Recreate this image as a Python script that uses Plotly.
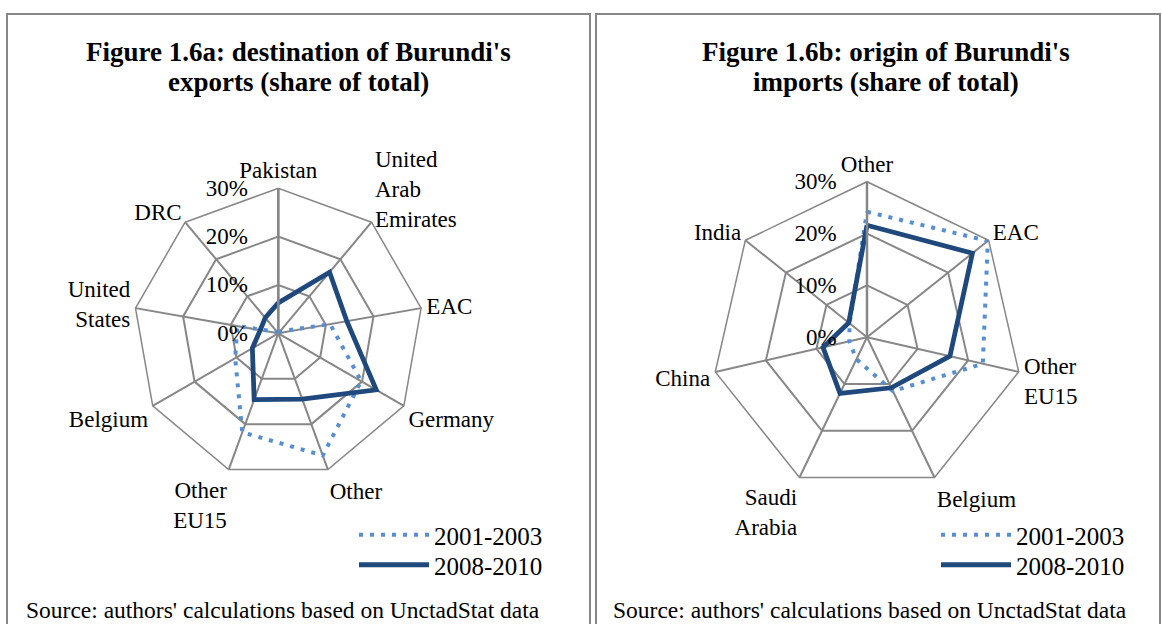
import plotly.graph_objects as go

# ---------------- data ----------------
exp_categories = ["Pakistan", "United<br>Arab<br>Emirates", "EAC", "Germany", "Other",
                  "Other<br>EU15", "Belgium", "United<br>States", "DRC"]
exp_2001_2003 = [0.3, 0.5, 10.9, 19.8, 26.9, 21.8, 10.3, 8.6, 0.4]
exp_2008_2010 = [6.3, 16.5, 14.4, 23.4, 14.5, 14.6, 6.2, 3.8, 4.2]

imp_categories = ["Other", "EAC", "Other<br>EU15", "Belgium", "Saudi<br>Arabia", "China", "India"]
imp_2001_2003 = [24.2, 29.8, 22.9, 11.5, 4.7, 3.5, 4.3]
imp_2008_2010 = [21.6, 26.0, 16.4, 10.8, 12.0, 8.7, 4.5]

series_names = ["2001-2003", "2008-2010"]
radial_tickvals = [0, 10, 20, 30]
radial_ticktext = ["0%", "10%", "20%", "30%"]

titles_a = ["Figure 1.6a: destination of Burundi's", "exports (share of total)"]
titles_b = ["Figure 1.6b: origin of Burundi's", "imports (share of total)"]
source_text = "Source: authors' calculations based on UnctadStat data"

# ---------------- style ----------------
W, H = 1162, 624
FONT = "Times New Roman, Liberation Serif, serif"
GRID = "#878787"
DOT_COLOR = "#558ED5"
SOLID_COLOR = "#1F497D"


def px(x):
    return x / W


def py(y):
    return 1 - y / H


def closed(vals):
    return list(vals) + [vals[0]]


fig = go.Figure()

panels = [
    (exp_categories, exp_2001_2003, exp_2008_2010, "polar", ["legend", "legend2"]),
    (imp_categories, imp_2001_2003, imp_2008_2010, "polar2", ["legend3", "legend4"]),
]
for cats, s1, s2, pol, legs in panels:
    fig.add_trace(go.Scatterpolar(
        r=closed(s1), theta=closed(cats), mode="lines", name=series_names[0],
        line=dict(color=DOT_COLOR, width=4, dash="4px,7px"),
        subplot=pol, legend=legs[0], hoverinfo="skip"))
    fig.add_trace(go.Scatterpolar(
        r=closed(s2), theta=closed(cats), mode="lines", name=series_names[1],
        line=dict(color=SOLID_COLOR, width=4.8),
        subplot=pol, legend=legs[1], hoverinfo="skip"))


def polar_cfg(cx, cy, rad, cats):
    return dict(
        domain=dict(x=[px(cx - rad), px(cx + rad)], y=[py(cy + rad), py(cy - rad)]),
        bgcolor="white",
        gridshape="linear",
        radialaxis=dict(
            range=[0, 30], tickvals=radial_tickvals, ticktext=radial_ticktext,
            angle=90, tickangle=90, side="counterclockwise",
            showline=True, linecolor=GRID, linewidth=2.5,
            gridcolor=GRID, gridwidth=1.5,
            ticks="outside", ticklen=21, tickcolor="rgba(0,0,0,0)",
            tickfont=dict(family=FONT, size=23, color="black"),
        ),
        angularaxis=dict(
            type="category", categoryarray=cats, rotation=90, direction="clockwise",
            showline=True, linecolor=GRID, linewidth=1.5,
            gridcolor=GRID, gridwidth=1.5, ticks="",
            tickfont=dict(family=FONT, size=23, color="black"),
        ),
    )


def legend_cfg(x, y):
    return dict(x=px(x), y=py(y), xanchor="left", yanchor="middle",
                font=dict(family=FONT, size=25, color="black"),
                bgcolor="rgba(0,0,0,0)", itemwidth=70, borderwidth=0)


fig.update_layout(
    width=W, height=H,
    margin=dict(l=0, r=0, t=0, b=0),
    paper_bgcolor="white", plot_bgcolor="white",
    font=dict(family=FONT, color="black"),
    polar=polar_cfg(278.3, 333.3, 145, exp_categories),
    polar2=polar_cfg(867, 337.3, 155.6, imp_categories),
    legend=legend_cfg(354, 535),
    legend2=legend_cfg(354, 565),
    legend3=legend_cfg(936, 535),
    legend4=legend_cfg(936, 565),
    showlegend=True,
)

# panel frames
for x0, x1 in [(7, 590), (596, 1160)]:
    fig.add_shape(type="rect", xref="paper", yref="paper",
                  x0=px(x0), x1=px(x1), y0=-0.05, y1=py(14),
                  line=dict(color=GRID, width=2), fillcolor="rgba(0,0,0,0)", layer="below")

# titles and source notes
for cx, lines, sx in [(298, titles_a, 24), (886, titles_b, 611)]:
    for i, t in enumerate(lines):
        fig.add_annotation(x=px(cx), y=py(52 + 30 * i), xref="paper", yref="paper",
                           text="<b>" + t + "</b>", showarrow=False,
                           xanchor="center", yanchor="middle",
                           font=dict(family=FONT, size=27, color="black"))
    fig.add_annotation(x=px(sx), y=py(610), xref="paper", yref="paper",
                       text=source_text, showarrow=False, xanchor="left", yanchor="middle",
                       font=dict(family=FONT, size=23.5, color="black"))

fig.write_html("out.html", config={"displayModeBar": False},
               post_script="document.body.style.margin='0';document.body.style.overflow='hidden';")
